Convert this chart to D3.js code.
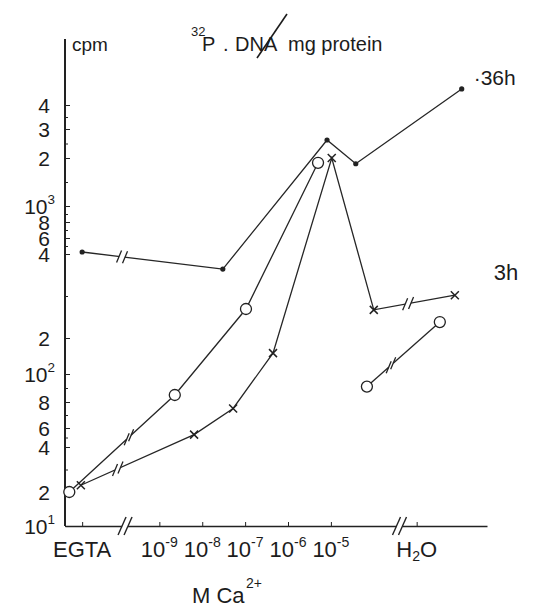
<!DOCTYPE html>
<html>
<head>
<meta charset="utf-8">
<script src="https://cdn.jsdelivr.net/npm/d3@7"></script>
<style>
  body { margin: 0; background: #fff; }
  svg text { font-family: "Liberation Sans", Arial, sans-serif; fill: #1c1c1c; }
  .trend { fill: none; stroke: #262626; stroke-width: 1.3; }
  .axis path, .axis line { stroke: #222; }
</style>
</head>
<body>
<div id="chart-container"></div>
<script>
// x values are log10 of the Ca2+ molarity; EGTA and H2O are parked past the ends
const xTickValues = [-10.8, -9, -8, -7, -6, -5, -3];
const xTickLabels = ["EGTA", "10^-9", "10^-8", "10^-7", "10^-6", "10^-5", "H_2O"];
const xAxisBreaks = [-9.8, -3.4];

// cpm 32P-DNA / mg protein
const yTickValues = [10, 20, 40, 60, 80, 100, 200, 400, 600, 800, 1000, 2000, 3000, 4000];
const yTickLabels = ["10^1", "2", "4", "6", "8", "10^2", "2", "4", "6", "8", "10^3", "2", "3", "4"];
const yMinorValues = [30, 50, 70, 90, 300, 500, 700, 900, 1500, 2500, 3500];

// 36 h (small dots)
const h36X = [-10.8, -7.52, -5.09, -4.42, -1.95];
const h36Y = [425, 364, 2620, 1880, 4670];
const h36Breaks = [-9.87];

// open circles
const circX = [-11.1, -8.64, -6.98, -5.30];
const circY = [20, 85, 269, 1900];
const circBreaks = [-9.71];
const circH2oX = [-4.16, -2.46];
const circH2oY = [91, 238];
const circH2oBreaks = [-3.6];

// crosses (3 h)
const crossX = [-10.83, -8.19, -7.28, -6.35, -4.98, -4.0, -2.11];
const crossY = [23, 53, 75, 158, 2000, 267, 302];
const crossBreaks = [-9.97, -3.2];

let svg = d3.select("#chart-container").append("svg").attr("width", 538).attr("height", 609),
    margin = { top: 39, right: 51, bottom: 83, left: 65 },
    width = +svg.attr("width") - margin.left - margin.right,
    height = +svg.attr("height") - margin.top - margin.bottom,
    g = svg.append("g").attr("transform", "translate(" + margin.left + "," + margin.top + ")");

// the hand drawn axis is only roughly logarithmic, so map each labelled tick
// to where it was drawn (px above the x axis) and interpolate in between
let yTickOffsets = [0, 34, 79, 98, 124, 152, 188, 272, 288, 304, 320, 368, 397, 421];

let x = d3.scaleLinear().domain([-11.2, -1.36]).range([0, width]),
    y = d3.scaleLinear().domain(yTickValues).range(yTickOffsets.map(o => height - o));

let zip = (xs, ys) => xs.map((v, i) => [v, ys[i]]);

let line = d3.line()
    .x(d => x(d[0]))
    .y(d => y(d[1]));

// axes
g.append("g")
    .attr("class", "axis")
    .attr("transform", "translate(0," + height + ")")
    .call(d3.axisBottom(x).tickValues(xTickValues).tickSize(-4).tickSizeOuter(0).tickFormat(""))
    .call(a => a.select(".domain").attr("stroke-width", 1.6));

g.append("g")
    .attr("class", "axis")
    .call(d3.axisLeft(y).tickValues(yTickValues).tickSize(-5).tickSizeOuter(0).tickFormat(""))
    .call(a => a.select(".domain").attr("d", `M0,${height}V0`).attr("stroke-width", 2));

g.append("g")
    .attr("class", "axis")
    .call(d3.axisLeft(y).tickValues(yMinorValues).tickSize(-3).tickFormat(""))
    .call(a => a.select(".domain").remove());

function richText(t, label, fs) {
    if (label.includes("^")) {
        let p = label.split("^");
        t.append("tspan").text(p[0]);
        t.append("tspan").attr("font-size", fs * 0.64).attr("dy", -fs * 0.45).text(p[1]);
    } else if (label.includes("_")) {
        let p = label.split("_");
        t.append("tspan").text(p[0]);
        t.append("tspan").attr("font-size", fs * 0.64).attr("dy", fs * 0.18).text(p[1][0]);
        t.append("tspan").attr("dy", -fs * 0.18).text(p[1].slice(1));
    } else {
        t.text(label);
    }
}

// x tick labels
xTickValues.forEach((v, i) => {
    g.append("text")
        .attr("x", x(v))
        .attr("y", height + 31)
        .attr("text-anchor", "middle")
        .attr("font-size", 22)
        .call(t => richText(t, xTickLabels[i], 22));
});

// y tick labels
yTickValues.forEach((v, i) => {
    let lab = yTickLabels[i];
    g.append("text")
        .attr("x", lab.includes("^") ? -10 : -15)
        .attr("y", y(v))
        .attr("dy", "0.36em")
        .attr("text-anchor", "end")
        .attr("font-size", 21)
        .call(t => richText(t, lab, 21));
});

// axis breaks on the x axis
xAxisBreaks.forEach(v => {
    let bx = x(v);
    g.append("rect").attr("x", bx - 3).attr("y", height - 2).attr("width", 6).attr("height", 4).attr("fill", "#fff");
    [-3, 3].forEach(o => {
        g.append("line")
            .attr("x1", bx + o - 4).attr("y1", height + 9)
            .attr("x2", bx + o + 4).attr("y2", height - 9)
            .attr("stroke", "#222").attr("stroke-width", 1.4);
    });
});

// series
let series = [
    { pts: zip(h36X, h36Y), breaks: h36Breaks, mark: "dot" },
    { pts: zip(circX, circY), breaks: circBreaks, mark: "circle" },
    { pts: zip(circH2oX, circH2oY), breaks: circH2oBreaks, mark: "circle" },
    { pts: zip(crossX, crossY), breaks: crossBreaks, mark: "cross" }
];

series.forEach(s => {
    g.append("path").datum(s.pts).attr("class", "trend").attr("d", line);

    // "//" marks where the line jumps over an axis break
    s.breaks.forEach(bv => {
        let k = s.pts.findIndex(p => p[0] > bv),
            p0 = s.pts[k - 1], p1 = s.pts[k],
            x0 = x(p0[0]), y0 = y(p0[1]), x1 = x(p1[0]), y1 = y(p1[1]),
            t = (x(bv) - x0) / (x1 - x0),
            bx = x0 + t * (x1 - x0), by = y0 + t * (y1 - y0),
            a = Math.atan2(y1 - y0, x1 - x0),
            c = Math.cos(a), sn = Math.sin(a);
        g.append("line")
            .attr("x1", bx - 3 * c).attr("y1", by - 3 * sn)
            .attr("x2", bx + 3 * c).attr("y2", by + 3 * sn)
            .attr("stroke", "#fff").attr("stroke-width", 4);
        [-3, 3].forEach(o => {
            let cx = bx + o * c, cy = by + o * sn;
            g.append("line")
                .attr("x1", cx - 2.5).attr("y1", cy + 6)
                .attr("x2", cx + 2.5).attr("y2", cy - 6)
                .attr("stroke", "#222").attr("stroke-width", 1.3);
        });
    });

    let m = g.append("g").selectAll("g").data(s.pts).join("g")
        .attr("transform", d => `translate(${x(d[0])},${y(d[1])})`);
    if (s.mark === "dot") {
        m.append("circle").attr("r", 2.6).attr("fill", "#222");
    } else if (s.mark === "circle") {
        m.append("circle").attr("r", 5.5).attr("fill", "#fff").attr("stroke", "#222").attr("stroke-width", 1.3);
    } else {
        m.append("path").attr("d", "M-4,-4L4,4M-4,4L4,-4").attr("stroke", "#222").attr("stroke-width", 1.5);
    }
});

// series labels
g.append("text")
    .attr("x", x(h36X[h36X.length - 1]) + 12)
    .attr("y", y(h36Y[h36Y.length - 1]) - 4)
    .attr("font-size", 21)
    .text("·36h");

g.append("text")
    .attr("x", x(crossX[crossX.length - 1]) + 39)
    .attr("y", y(crossY[crossY.length - 1]) - 15)
    .attr("font-size", 22)
    .text("3h");

// title
svg.append("text").attr("x", 72).attr("y", 51).attr("font-size", 19).text("cpm");
svg.append("text").attr("x", 191).attr("y", 36).attr("font-size", 13).text("32");
svg.append("text").attr("x", 202).attr("y", 51).attr("font-size", 20).text("P");
svg.append("text").attr("x", 223).attr("y", 51).attr("font-size", 20).text(".");
svg.append("text").attr("x", 235).attr("y", 51).attr("font-size", 20).text("DNA");
svg.append("line")
    .attr("x1", 257).attr("y1", 58).attr("x2", 287).attr("y2", 14)
    .attr("stroke", "#1c1c1c").attr("stroke-width", 1.6);
svg.append("text").attr("x", 288).attr("y", 51).attr("font-size", 20).text("mg protein");

// x axis title
svg.append("text").attr("x", 192).attr("y", 603).attr("font-size", 22).text("M Ca");
svg.append("text").attr("x", 246).attr("y", 588).attr("font-size", 14).text("2+");
</script>
</body>
</html>
